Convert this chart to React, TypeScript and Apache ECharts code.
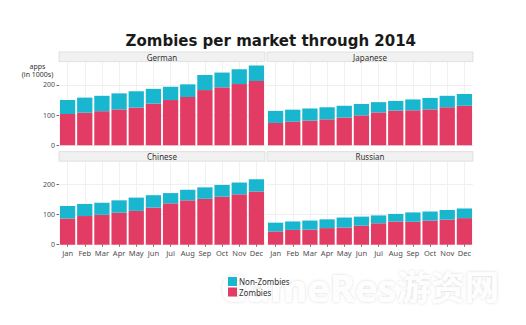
import React, { useEffect, useRef } from "react";
import * as echarts from "echarts";

const months = ["Jan", "Feb", "Mar", "Apr", "May", "Jun", "Jul", "Aug", "Sep", "Oct", "Nov", "Dec"];
const markets = ["German", "Japanese", "Chinese", "Russian"];

const germanZombies = [104, 108, 113, 119, 125, 138, 150, 160, 183, 192, 203, 213];
const germanNonZombies = [46, 50, 51, 53, 54, 49, 44, 42, 50, 49, 49, 51];
const japaneseZombies = [74, 78, 82, 86, 92, 99, 109, 115, 116, 119, 126, 131];
const japaneseNonZombies = [40, 40, 40, 40, 39, 38, 34, 32, 36, 38, 38, 39];
const chineseZombies = [87, 95, 99, 106, 112, 123, 137, 147, 152, 159, 167, 176];
const chineseNonZombies = [41, 40, 40, 41, 44, 41, 34, 35, 38, 39, 39, 41];
const russianZombies = [44, 49, 50, 55, 57, 63, 71, 77, 76, 80, 83, 88];
const russianNonZombies = [29, 28, 30, 29, 33, 30, 26, 25, 31, 30, 32, 32];

const yTickLabels = [0, 100, 200];

const zombieData = [germanZombies, japaneseZombies, chineseZombies, russianZombies];
const nonZombieData = [germanNonZombies, japaneseNonZombies, chineseNonZombies, russianNonZombies];

const PINK = "#e23c65";
const CYAN = "#19b6cf";
const FONT = "'Noto Sans', sans-serif";

export default function App() {
  const ref = useRef<HTMLDivElement>(null);
  useEffect(() => {
    if (!ref.current) return;
    const chart = echarts.init(ref.current, null, { renderer: "svg" });
    const panelW = 206;
    const lefts = [59, 267, 59, 267];
    const tops = [62, 62, 161.4, 161.4];
    const plotH = 83.3;
    const grids = markets.map((_, i) => ({
      left: lefts[i],
      top: tops[i],
      width: panelW,
      height: plotH,
      containLabel: false,
    }));
    const xAxes = markets.map((_, i) => ({
      type: "category",
      gridIndex: i,
      data: months,
      boundaryGap: true,
      axisLine: { show: false },
      axisTick: { show: i >= 2, alignWithLabel: true, length: 2, lineStyle: { color: "#444", width: 0.8 } },
      axisLabel: { show: i >= 2, fontSize: 7.5, color: "#4d4d4d", margin: 4, fontFamily: FONT, interval: 0 },
      splitLine: { show: true, alignWithLabel: true, lineStyle: { color: "#eeeeee", width: 0.8 } },
    }));
    const yAxes = markets.map((_, i) => ({
      type: "value",
      gridIndex: i,
      min: 0,
      max: 276,
      interval: 50,
      axisLine: { show: false },
      axisTick: {
        show: i % 2 === 0,
        length: 2.5,
        customValues: yTickLabels,
        lineStyle: { color: "#444", width: 0.8 },
      },
      axisLabel: {
        show: i % 2 === 0,
        fontSize: 7,
        color: "#4d4d4d",
        margin: 4,
        fontFamily: FONT,
        customValues: yTickLabels,
        formatter: (v: number) => (yTickLabels.indexOf(v) >= 0 ? String(v) : ""),
      },
      splitLine: { show: true, lineStyle: { color: "#ebebeb", width: 0.8 } },
    }));
    const series: any[] = [];
    markets.forEach((m, i) => {
      series.push({
        name: "Zombies",
        type: "bar",
        xAxisIndex: i,
        yAxisIndex: i,
        stack: m,
        data: zombieData[i],
        barCategoryGap: "11%",
        itemStyle: { color: PINK },
        z: 2,
      });
      series.push({
        name: "Non-Zombies",
        type: "bar",
        xAxisIndex: i,
        yAxisIndex: i,
        stack: m,
        data: nonZombieData[i],
        barCategoryGap: "11%",
        itemStyle: { color: CYAN },
        z: 2,
      });
    });
    const stripTops = [52, 52, 151.6, 151.6];
    const graphics: any[] = [];
    graphics.push({
      type: "text",
      z: 1,
      style: {
        text: "GameRes",
        font: "bold 38px 'Noto Sans', sans-serif",
        fill: "rgba(255,255,255,0.9)",
        textShadowColor: "rgba(0,0,0,0.18)",
        textShadowBlur: 3,
      },
      position: [220, 268],
    });
    graphics.push({
      type: "text",
      z: 1,
      style: {
        text: "游资网",
        font: "bold 34px 'Noto Sans CJK SC', sans-serif",
        fill: "rgba(255,255,255,0.9)",
        textShadowColor: "rgba(0,0,0,0.18)",
        textShadowBlur: 3,
      },
      position: [397, 268],
    });
    markets.forEach((m, i) => {
      graphics.push({
        type: "rect",
        z: 10,
        shape: { x: lefts[i], y: stripTops[i], width: panelW, height: 9.6 },
        style: { fill: "#f1f1f1", stroke: "#d6d6d6", lineWidth: 0.7 },
      });
      graphics.push({
        type: "text",
        z: 11,
        style: {
          text: m,
          x: lefts[i] + panelW / 2,
          y: stripTops[i] + 5,
          align: "center",
          verticalAlign: "middle",
          font: "8px 'Noto Sans', sans-serif",
          fill: "#333333",
        },
      });
    });
    graphics.push({
      type: "text",
      z: 11,
      style: {
        text: "apps\n(in 1000s)",
        x: 37.5,
        y: 62,
        align: "center",
        verticalAlign: "top",
        lineHeight: 8.5,
        font: "7px 'Noto Sans', sans-serif",
        fill: "#333333",
      },
    });
    chart.setOption({
      animation: false,
      backgroundColor: "#ffffff",
      title: {
        text: "Zombies per market through 2014",
        left: 265.8,
        textAlign: "center",
        top: 28,
        textStyle: { fontSize: 15, fontWeight: "bold", color: "#1a1a1a", fontFamily: "'DejaVu Sans', sans-serif" },
      },
      legend: {
        data: ["Non-Zombies", "Zombies"],
        orient: "vertical",
        left: 228,
        top: 277,
        itemWidth: 9,
        itemHeight: 9,
        itemGap: 1.5,
        icon: "rect",
        padding: 0,
        textStyle: { fontSize: 8, color: "#333", fontFamily: FONT, padding: [0, 0, 0, -3] },
        z: 20,
      },
      grid: grids,
      xAxis: xAxes,
      yAxis: yAxes,
      series,
      graphic: graphics,
    });
    return () => chart.dispose();
  }, []);
  return (
    <div
      ref={ref}
      style={{ position: "fixed", left: 0, top: 0, width: 526, height: 325 }}
    />
  );
}
